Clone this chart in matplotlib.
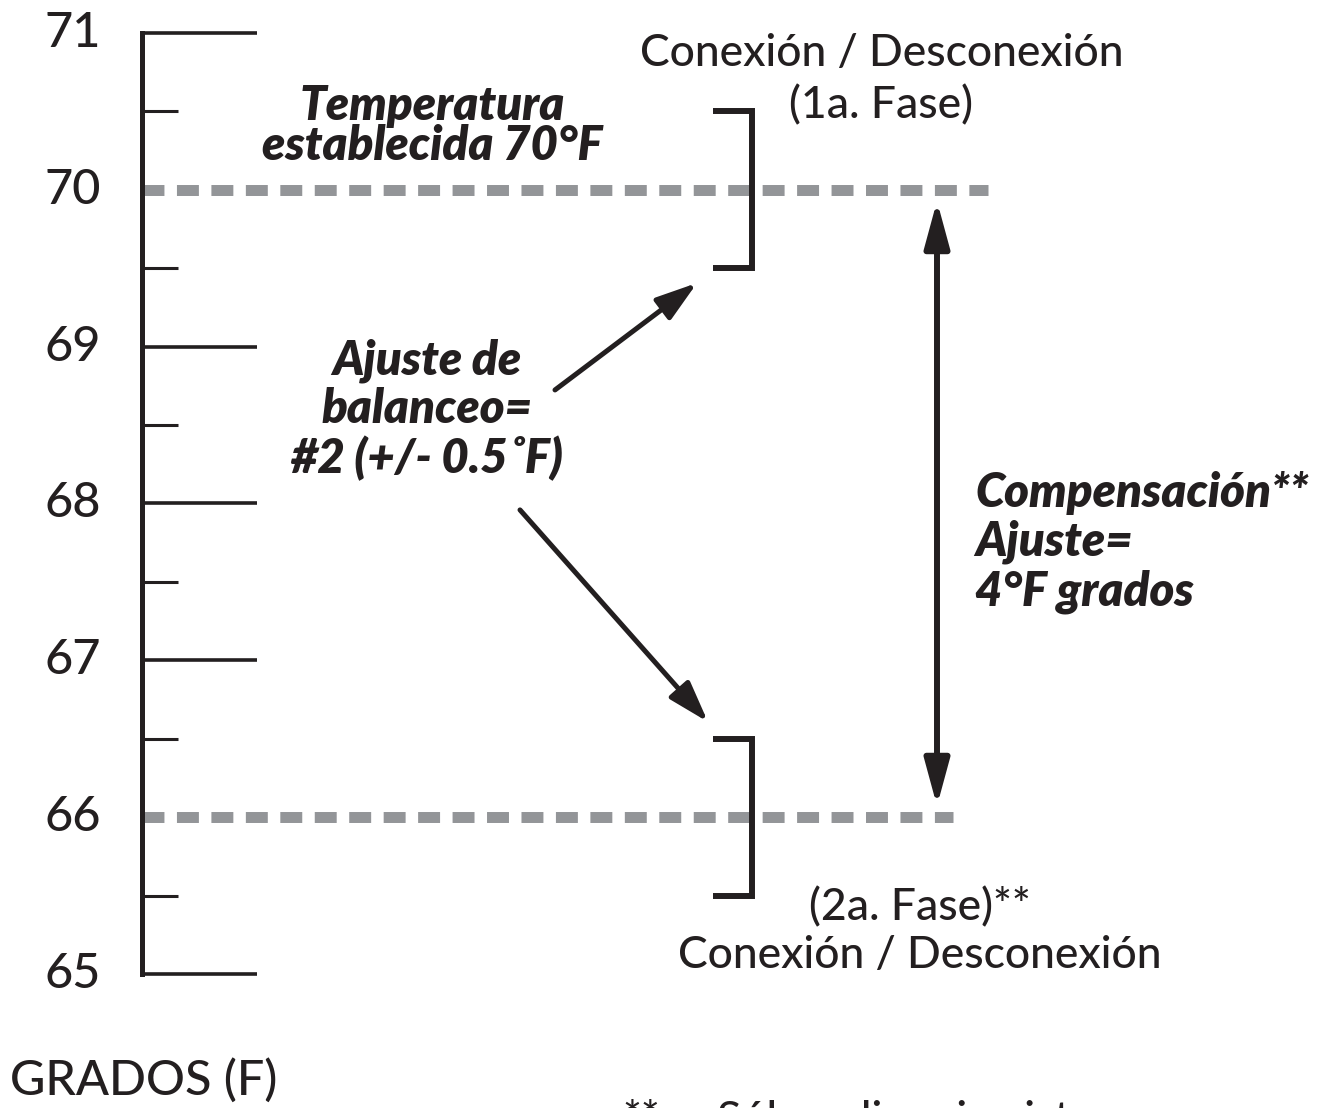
import matplotlib
matplotlib.use("Agg")
import matplotlib.pyplot as plt

# temperature scale (degrees F)
temps = [65, 66, 67, 68, 69, 70, 71]
half_steps = [65.5, 66.5, 67.5, 68.5, 69.5, 70.5]
tick_labels = ["65", "66", "67", "68", "69", "70", "71"]
setpoint = 70        # temperatura establecida
offset = 4           # compensacion (ajuste) en grados F
swing = 0.5          # ajuste de balanceo #2 (+/- 0.5 F)
stage2 = setpoint - offset

INK = "#231f20"
GREY = "#939598"
FONT = "Lato"

W, H = 1341, 1108
fig = plt.figure(figsize=(W / 100, H / 100), dpi=100)
ax = fig.add_axes([0, 0, 1, 1])
ax.axis("off")

# x in pixels, y in degrees
px_per_deg = 156.83
top_px = 33
ax.set_xlim(0, W)
ax.set_ylim(max(temps) - (H - top_px) / px_per_deg, max(temps) + top_px / px_per_deg)


def at(x, y):
    # pixel position -> figure fraction
    return x / W, 1 - y / H


# scale (the dashed lines replace the 70 and 66 ticks)
ax.plot([142, 142], [min(temps), max(temps)], color=INK, lw=3.6,
        solid_capstyle="projecting", zorder=4)
major = [t for t in temps if t not in (setpoint, stage2)]
ax.hlines(major, 142, 257, color=INK, lw=2.6, zorder=3)
ax.hlines(half_steps, 142, 178, color=INK, lw=2.2, zorder=3)
for t, lab in zip(temps, tick_labels):
    ax.text(73, t, lab, ha="center", va="center", fontsize=35, family=FONT,
            fontweight="medium", color=INK)

# dashed set-point lines
ax.plot([142, 988], [setpoint, setpoint], color=GREY, lw=7.9,
        dashes=(2.0, 1.14), dash_capstyle="butt", zorder=2)
ax.plot([142, 953], [stage2, stage2], color=GREY, lw=7.9,
        dashes=(2.0, 1.14), dash_capstyle="butt", zorder=2)

# on/off brackets
for mid in [setpoint, stage2]:
    ax.plot([713, 752, 752, 713], [mid + swing, mid + swing, mid - swing, mid - swing],
            color=INK, lw=4.3, solid_joinstyle="miter", solid_capstyle="butt", zorder=3)

# arrows
diag = dict(arrowstyle="-|>,head_length=1.25,head_width=0.4", mutation_scale=20,
            lw=3.6, color=INK, shrinkA=0, shrinkB=0)
ax.annotate("", xy=(697, 69.406), xytext=(555, 68.724), arrowprops=diag)
ax.annotate("", xy=(708, 66.607), xytext=(520, 67.959), arrowprops=diag)
ax.annotate("", xy=(937, setpoint), xytext=(937, stage2),
            arrowprops=dict(arrowstyle="<|-|>,head_length=1.4,head_width=0.38",
                            mutation_scale=20, lw=4.3, color=INK, shrinkA=8, shrinkB=8))

# texts
reg = dict(family=FONT, color=INK, fontsize=32, fontweight="medium",
           ha="center", va="baseline")
bi = dict(family=FONT, color=INK, fontsize=34, fontweight="heavy", style="italic",
          va="baseline")

fig.text(*at(882, 66), "Conexión / Desconexión", **reg)
fig.text(*at(881, 118), "(1a. Fase)", **reg)
fig.text(*at(920, 920), "(2a. Fase)**", **reg)
fig.text(*at(920, 968), "Conexión / Desconexión", **reg)

fig.text(*at(432, 120), "Temperatura", ha="center", **bi)
fig.text(*at(432, 160), "establecida 70°F", ha="center", **bi)
fig.text(*at(427, 375), "Ajuste de", ha="center", **bi)
fig.text(*at(427, 423), "balanceo=", ha="center", **bi)
fig.text(*at(427, 473), "#2 (+/- 0.5˚F)", ha="center", **bi)
fig.text(*at(975, 507), "Compensación**", ha="left", **bi)
fig.text(*at(975, 555), "Ajuste=", ha="left", **bi)
fig.text(*at(975, 605), "4°F grados", ha="left", **bi)

fig.text(*at(10, 1095), "GRADOS (F)", family=FONT, color=INK, fontsize=35,
         fontweight="medium", ha="left", va="baseline")

# footnote, cut off by the bottom edge as in the original
note = dict(family=FONT, color=INK, fontsize=32, fontweight="medium",
            ha="left", va="baseline")
fig.text(*at(622, 1133), "**", **note)
fig.text(*at(717, 1133), "Sólo aplica si existe", **note)

fig.savefig("out.png", dpi=100, facecolor="white")
